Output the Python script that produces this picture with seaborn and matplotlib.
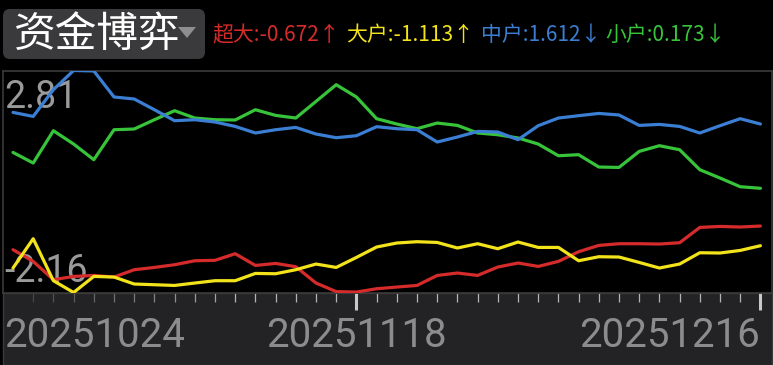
import numpy as np
import pandas as pd
import matplotlib
matplotlib.use("Agg")
import matplotlib.pyplot as plt
from matplotlib.patches import FancyBboxPatch, Polygon, Rectangle
import seaborn as sns

# trading days shown on the x axis
dates = pd.bdate_range("2025-10-24", "2025-12-16").strftime("%Y%m%d").tolist()
label_dates = ["20251024", "20251118", "20251216"]

# fund flow series
super_large = [-1.202, -1.464, -1.874, -1.800, -1.778, -1.814, -1.650, -1.599, -1.538, -1.449,
               -1.440, -1.292, -1.554, -1.509, -1.583, -1.948, -2.140, -2.150, -2.076, -2.038,
               -2.002, -1.778, -1.724, -1.778, -1.590, -1.500, -1.576, -1.464, -1.247, -1.106,
               -1.068, -1.068, -1.075, -1.046, -0.703, -0.681, -0.694, -0.672]
large = [-1.612, -0.956, -1.896, -2.160, -1.800, -1.814, -1.970, -1.986, -2.002, -1.948,
         -1.896, -1.896, -1.733, -1.740, -1.650, -1.523, -1.599, -1.375, -1.142, -1.052,
         -1.023, -1.039, -1.164, -1.068, -1.180, -1.030, -1.151, -1.151, -1.449, -1.359,
         -1.366, -1.487, -1.612, -1.523, -1.270, -1.276, -1.218, -1.113]
medium = [1.872, 1.782, 2.380, 2.810, 2.800, 2.217, 2.172, 1.932, 1.686, 1.708,
          1.657, 1.558, 1.411, 1.484, 1.536, 1.388, 1.305, 1.350, 1.552, 1.507,
          1.484, 1.209, 1.321, 1.446, 1.433, 1.261, 1.574, 1.746, 1.798, 1.849,
          1.814, 1.581, 1.603, 1.558, 1.411, 1.574, 1.731, 1.612]
small = [0.976, 0.739, 1.462, 1.164, 0.813, 1.484, 1.500, 1.708, 1.910, 1.746,
         1.708, 1.702, 1.932, 1.805, 1.746, 2.118, 2.492, 2.217, 1.731, 1.612,
         1.507, 1.634, 1.581, 1.411, 1.372, 1.299, 1.164, 0.902, 0.925, 0.649,
         0.640, 0.999, 1.126, 1.037, 0.589, 0.403, 0.208, 0.173]

names = ["超大", "大户", "中户", "小户"]
latest = [-0.672, -1.113, 1.612, 0.173]
arrows = ["↑", "↑", "↓", "↓"]
y_max, y_min = 2.81, -2.16

colors = {"超大": "#d62b2b", "大户": "#f2e31b", "中户": "#3b7fd4", "小户": "#38c43a"}

df = pd.DataFrame({"idx": np.arange(len(dates)), "超大": super_large, "大户": large,
                   "中户": medium, "小户": small})
long = df.melt(id_vars="idx", var_name="series", value_name="value")

sns.set_theme(style="dark", rc={"axes.facecolor": "black", "figure.facecolor": "black"})
plt.rcParams["font.family"] = ["Noto Sans CJK SC", "DejaVu Sans"]

W, H = 773, 365
fig = plt.figure(figsize=(W / 100, H / 100), dpi=100)
ax = fig.add_axes([3 / W, 1 - 292.5 / H, 769 / W, 222 / H])

sns.lineplot(data=long, x="idx", y="value", hue="series", palette=colors,
             hue_order=["小户", "中户", "超大", "大户"], linewidth=2.3,
             legend=False, ax=ax, zorder=3)

ax.set_xlim(-0.495, 37.574)
ax.set_ylim(y_min, y_max)
ax.set_xlabel("")
ax.set_ylabel("")
ax.set_yticks([])
for s in ax.spines.values():
    s.set_color("#3a3a3a")
    s.set_linewidth(1.2)
    s.set_visible(True)

# ticks along the date strip
major = [dates.index(d) for d in label_dates[1:]]
ax.set_xticks(major)
ax.set_xticklabels([])
ax.set_xticks([i for i in range(1, len(dates)) if i not in major], minor=True)
ax.tick_params(axis="x", which="major", direction="out", length=12, width=2.2,
               color="#c8c8c8", bottom=True)
ax.tick_params(axis="x", which="minor", direction="out", length=6.5, width=0.9,
               color="#b4b4b4", bottom=True)
for k, t in enumerate(ax.xaxis.get_minor_ticks()[:10]):
    t.tick1line.set_alpha(0.25 + 0.07 * k)

# min / max labels inside the plot
lab_font = ["Roboto", "DejaVu Sans"]
ax.annotate(f"{y_max:.2f}", xy=(0, 1), xycoords="axes fraction", xytext=(1, -37.5),
            textcoords="offset pixels", ha="left", va="baseline", fontsize=27,
            color="#9a9a9a", family=lab_font, zorder=1)
ax.annotate(f"{y_min:.2f}", xy=(0, 0), xycoords="axes fraction", xytext=(1, 10.5),
            textcoords="offset pixels", ha="left", va="baseline", fontsize=27,
            color="#9a9a9a", family=lab_font, zorder=1)

# date labels under the plot
aligns = ["left", "center", "right"]
offs = [-9, 0, -1]
for d, ha, dx in zip(label_dates, aligns, offs):
    ax.annotate(d, xy=(dates.index(d), 0), xycoords=("data", "axes fraction"),
                xytext=(dx, -54.5), textcoords="offset pixels", ha=ha, va="baseline",
                fontsize=29, color="#8c8c8c", family=lab_font, annotation_clip=False)

# bottom strip background
fig.patches.append(Rectangle((3 / W, 0), 769 / W, 72.5 / H, transform=fig.transFigure,
                             facecolor="#232325", edgecolor="#3a3a3a", lw=1, zorder=-1))

# title box
inch = fig.dpi_scale_trans
fig.patches.append(FancyBboxPatch((0.03, (H - 59) / 100), 2.02, 0.50,
                                  boxstyle="round,pad=0,rounding_size=0.07",
                                  transform=inch, facecolor="#3a3a3c", edgecolor="none"))
fig.patches.append(Polygon([(1.78, (H - 27) / 100), (1.96, (H - 27) / 100),
                            (1.87, (H - 38) / 100)], closed=True, transform=inch,
                           facecolor="#8e8e8e", edgecolor="none"))
fig.text(0.14, (H - 47) / 100, "资金博弈", transform=inch, fontsize=30, color="white",
         ha="left", va="baseline")

# legend line
leg_x = [212, 346, 481, 605]
for n, v, a, x in zip(names, latest, arrows, leg_x):
    fig.text(x / 100, (H - 41) / 100, f"{n}:{v:.3f}{a}", transform=inch, fontsize=15,
             color=colors[n], ha="left", va="baseline")

fig.savefig("out.png", dpi=100, facecolor="black")
